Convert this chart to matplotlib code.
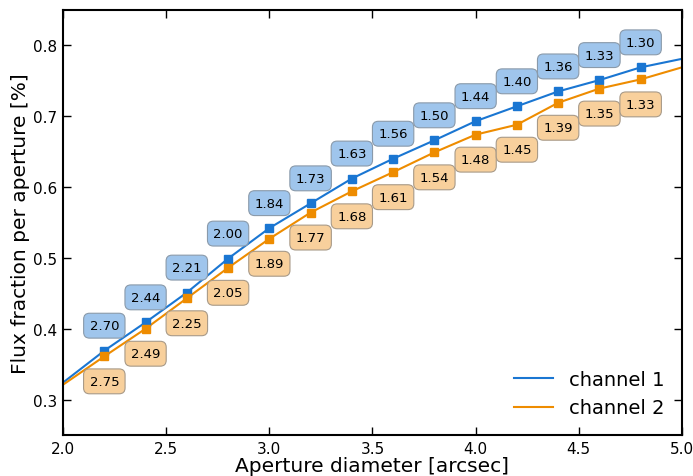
import numpy as np
import matplotlib
matplotlib.use('Agg')
import matplotlib.pyplot as plt

# aperture diameters with markers, and flux fractions
aperture = np.array([2.2, 2.4, 2.6, 2.8, 3.0, 3.2, 3.4, 3.6, 3.8, 4.0, 4.2, 4.4, 4.6, 4.8])
flux_ch1 = np.array([0.369, 0.409, 0.451, 0.499, 0.542, 0.577, 0.612, 0.640,
                     0.666, 0.693, 0.714, 0.735, 0.751, 0.769])
flux_ch2 = np.array([0.361, 0.400, 0.443, 0.486, 0.527, 0.564, 0.594, 0.621,
                     0.649, 0.674, 0.688, 0.719, 0.739, 0.752])
label_ch1 = ['2.70', '2.44', '2.21', '2.00', '1.84', '1.73', '1.63', '1.56',
             '1.50', '1.44', '1.40', '1.36', '1.33', '1.30']
label_ch2 = ['2.75', '2.49', '2.25', '2.05', '1.89', '1.77', '1.68', '1.61',
             '1.54', '1.48', '1.45', '1.39', '1.35', '1.33']

# line ends (no markers) at the edges of the axis
edge_x = [2.0, 5.0]
edge_ch1 = [0.324, 0.781]
edge_ch2 = [0.321, 0.769]

c1 = '#1a76d2'
c2 = '#ee8c00'

fig = plt.figure(figsize=(6.93, 4.77), dpi=100)
ax = fig.add_axes([0.091, 0.086, 0.893, 0.891])

x1 = np.concatenate([[edge_x[0]], aperture, [edge_x[1]]])
y1 = np.concatenate([[edge_ch1[0]], flux_ch1, [edge_ch1[1]]])
y2 = np.concatenate([[edge_ch2[0]], flux_ch2, [edge_ch2[1]]])
ax.plot(x1, y1, color=c1, lw=1.5, label='channel 1')
ax.plot(x1, y2, color=c2, lw=1.5, label='channel 2')
ax.plot(aperture, flux_ch1, 's', color=c1, ms=6, mec=c1)
ax.plot(aperture, flux_ch2, 's', color=c2, ms=6, mec=c2)

for x, y, t in zip(aperture, flux_ch1, label_ch1):
    ax.annotate(t, (x, y), xytext=(0, 25), textcoords='offset pixels',
                ha='center', va='center', fontsize=9.5,
                bbox=dict(boxstyle='round,pad=0.45', fc='#9fc5ec', ec='#8a9aaa', lw=0.8))
for x, y, t in zip(aperture, flux_ch2, label_ch2):
    ax.annotate(t, (x, y), xytext=(0, -25), textcoords='offset pixels',
                ha='center', va='center', fontsize=9.5,
                bbox=dict(boxstyle='round,pad=0.45', fc='#f8d09c', ec='#a89a88', lw=0.8))

ax.set_xlim(2.0, 5.0)
ax.set_ylim(0.25, 0.85)
ax.set_xticks([2.0, 2.5, 3.0, 3.5, 4.0, 4.5, 5.0])
ax.set_yticks([0.3, 0.4, 0.5, 0.6, 0.7, 0.8])
ax.tick_params(direction='in', top=True, right=True, length=6, width=1, labelsize=11, pad=4)
for s in ax.spines.values():
    s.set_linewidth(1.5)
ax.set_xlabel('Aperture diameter [arcsec]', fontsize=14.5, labelpad=0)
ax.set_ylabel('Flux fraction per aperture [%]', fontsize=14.5, labelpad=2)
ax.legend(loc='lower right', frameon=False, fontsize=14, handlelength=2)

fig.savefig('out.png', dpi=100)
